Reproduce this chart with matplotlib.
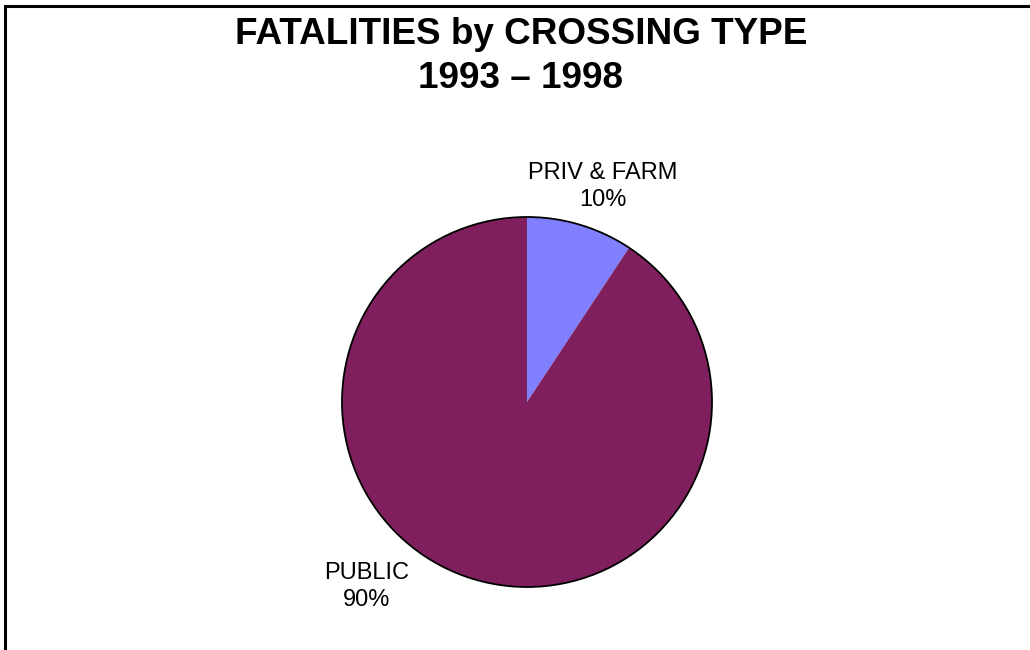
import matplotlib.pyplot as plt
from matplotlib.patches import Circle, Rectangle

plt.rcParams['font.family'] = ['Liberation Sans', 'DejaVu Sans']

categories = ["PRIV & FARM", "PUBLIC"]
shares = [9.3, 90.7]
percent_labels = ["10%", "90%"]
colors = ["#8080FF", "#7F1F5E"]

fig = plt.figure(figsize=(10.3, 6.5), dpi=100)

# frame line on top and left like the original slide
fig.patches.append(Rectangle((4.5 / 1030, -0.1), 1.2, 1.1 - 5.5 / 650, transform=fig.transFigure,
                             fill=False, edgecolor="black", linewidth=2.2))

fig.text(521 / 1030, 1 - 35 / 650, "FATALITIES by CROSSING TYPE", ha="center", va="center",
         fontsize=26.6, fontweight="bold")
fig.text(521 / 1030, 1 - 78 / 650, "1993 \u2013 1998", ha="center", va="center",
         fontsize=26.6, fontweight="bold")

ax = fig.add_axes([342 / 1030, 63 / 650, 370 / 1030, 370 / 650])
labels = [f"{c}\n{p}" for c, p in zip(categories, percent_labels)]
wedges, texts = ax.pie(shares, labels=labels, colors=colors, startangle=90, counterclock=False,
                       wedgeprops=dict(linewidth=0), labeldistance=1.2,
                       textprops=dict(fontsize=17, ha="center", va="center", linespacing=1.3))
outline = Circle((0, 0), 1, fill=False, edgecolor="black", linewidth=1.3)
ax.add_patch(outline)
outline.set_clip_on(False)

# label positions as in the reference
texts[0].set_position((0.41, 1.165))
texts[1].set_position((-0.865, -0.995))

ax.set_xlim(-1, 1)
ax.set_ylim(-1, 1)
ax.set_aspect("equal")
ax.axis("off")

fig.savefig("out.png", dpi=100)
